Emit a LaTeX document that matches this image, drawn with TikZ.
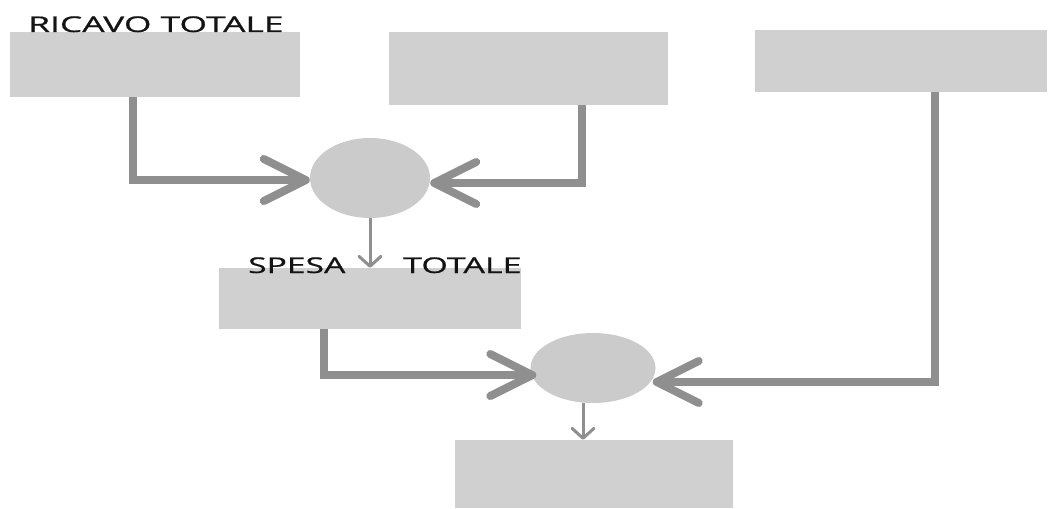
\documentclass[tikz,border=0pt]{standalone}
\usepackage{fontspec}
\setmainfont{Open Sans}
\usetikzlibrary{arrows.meta,shapes.geometric}
\definecolor{boxgray}{HTML}{D0D0D0}
\definecolor{circgray}{HTML}{CBCBCB}
\definecolor{linegray}{HTML}{8F8F8F}
\definecolor{txt}{HTML}{141414}
\begin{document}
\begin{tikzpicture}[x=1pt,y=-1pt,
  box/.style={rectangle,fill=boxgray,draw=none,inner sep=0pt},
  circ/.style={ellipse,fill=circgray,draw=none,inner sep=0pt},
  bigarrow/.style={draw=linegray,line width=8pt,-{Straight Barb[length=42pt,width=42pt,round]}},
  smallarrow/.style={draw=linegray,line width=3pt,-{Straight Barb[length=10pt,width=22pt,round]}},
  lbl/.style={inner sep=0pt,text=txt,font=\fontsize{21.7}{26}\selectfont\addfontfeature{FakeBold=0.6}}]
\useasboundingbox (0,0) rectangle (1048,508);
\fill[white] (0,0) rectangle (1048,508);
\node[box,minimum width=290pt,minimum height=65pt] (A) at (155,64.5) {};
\node[box,minimum width=279pt,minimum height=73pt] (B) at (528.5,68.5) {};
\node[box,minimum width=292pt,minimum height=62pt] (C) at (901,61) {};
\node[box,minimum width=302pt,minimum height=61pt] (D) at (370,298.5) {};
\node[box,minimum width=278pt,minimum height=68pt] (E) at (594,474) {};
\node[circ,minimum width=120pt,minimum height=80pt] (C1) at (370,178) {};
\node[circ,minimum width=125pt,minimum height=70pt] (C2) at (593,368) {};
\node[lbl,anchor=base west] (lA) at (28,32) {\scalebox{1.63}[1]{RICAVO TOTALE}};
\node[lbl,anchor=base west] (lD1) at (248,273) {\scalebox{1.55}[1]{SPESA}};
\node[lbl,anchor=base west] (lD2) at (403,273) {\scalebox{1.57}[1]{TOTALE}};
\draw[bigarrow] ([xshift=123pt]A.south west) |- ([yshift=-2pt]C1.west);
\draw[bigarrow] ([xshift=193pt]B.south west) |- ([yshift=-5pt]C1.east);
\draw[bigarrow] ([xshift=105pt]D.south west) |- ([xshift=6pt,yshift=-7pt]C2.west);
\draw[bigarrow] ([xshift=180pt]C.south west) |- ([xshift=-3pt,yshift=-14pt]C2.east);
\draw[smallarrow] (C1.south) -- (D.north);
\draw[smallarrow] ([xshift=-10pt]C2.south) -- ([xshift=-10pt]C2.south |- E.north);
\end{tikzpicture}
\end{document}
